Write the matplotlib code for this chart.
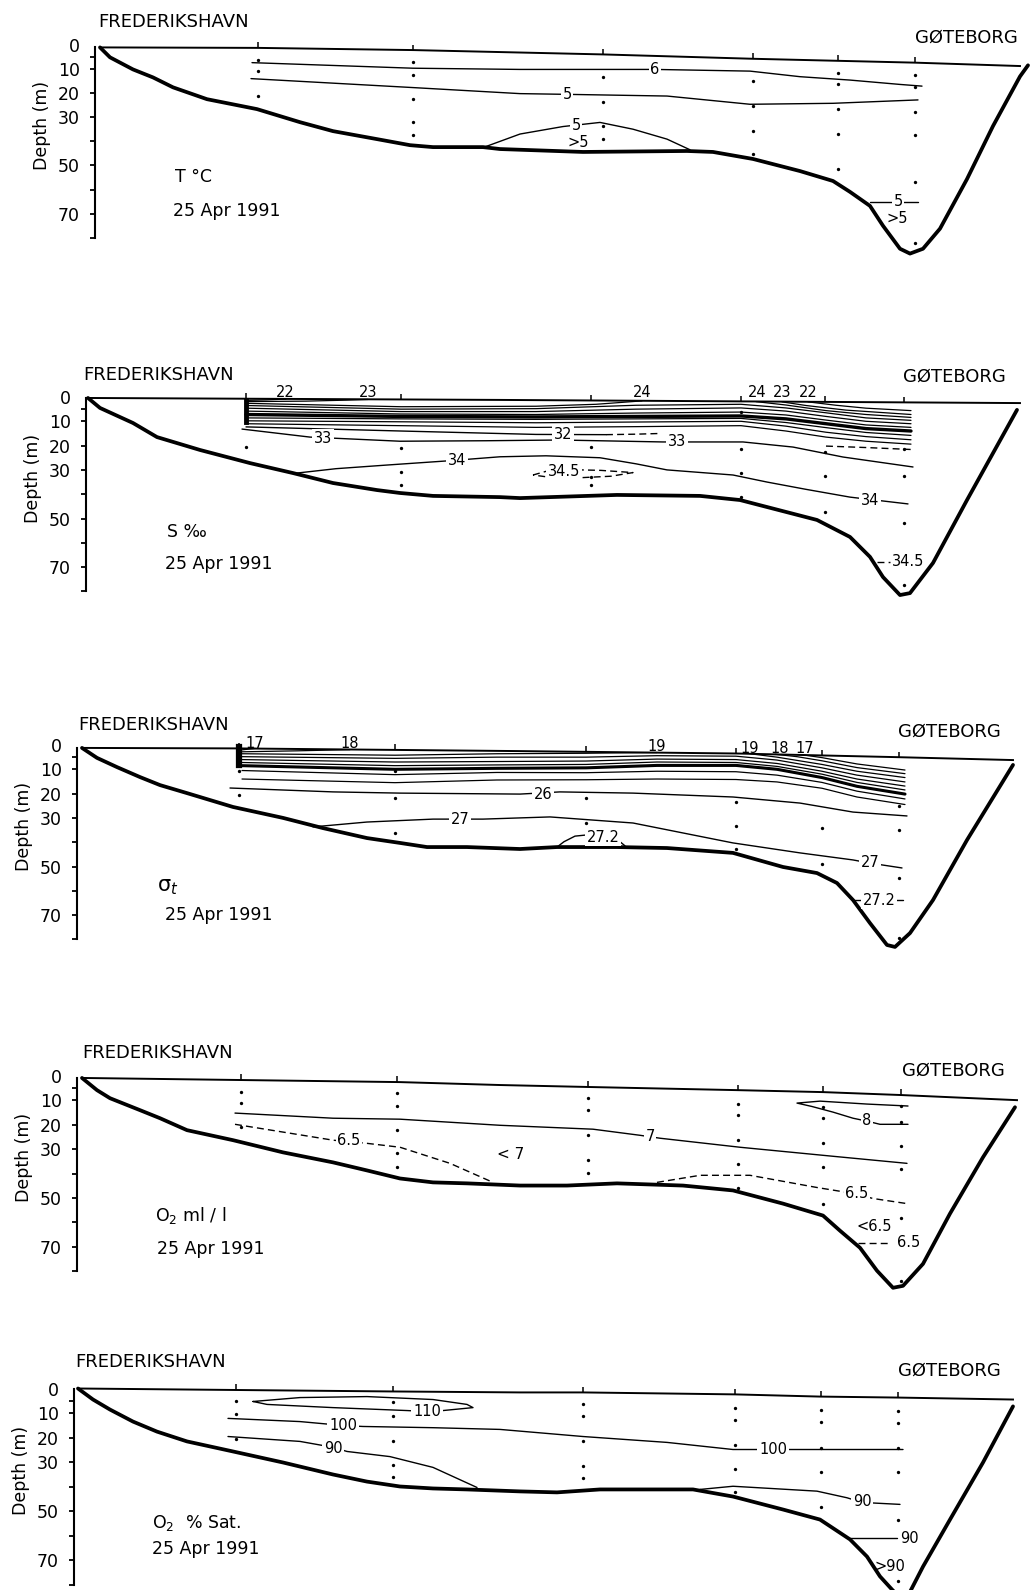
import numpy as np
import matplotlib
matplotlib.use("Agg")
import matplotlib.pyplot as plt

plt.rcParams["font.family"] = "DejaVu Sans"

FIG_W, FIG_H = 1032, 1590          # pixels at dpi 100
PX_PER_KM = 10.0
D_TOP, D_BOT = -14.0, 90.0         # depth range shown in every panel (m)

TICKS = [0, 5, 10, 20, 30, 40, 50, 60, 70, 80]
TICK_LABELS = ["0", "", "10", "20", "30", "", "50", "", "70", ""]

# ─────────────────────────────────────────────────────────────────────────────
# Panel 1 : temperature
# ─────────────────────────────────────────────────────────────────────────────
t_st = [16.3, 31.8, 50.8, 65.8, 74.3, 82.0]
t_dots = [[6.2, 11.1, 21.4], [7.1, 12.6, 22.6, 32.2, 37.4], [13.3, 23.7, 33.6, 39.1],
          [15.1, 25.4, 35.7, 45.3], [11.9, 16.5, 26.7, 37.0, 51.4],
          [12.8, 17.4, 27.9, 37.4, 56.7, 82.0]]
t_surf_km = [0.5, 16.3, 31.8, 50.8, 65.8, 82.0, 92.5]
t_surf_d = [1.2, 1.4, 2.3, 4.1, 5.9, 7.5, 8.9]
t_bot_km = [0.5, 1.5, 3.8, 5.8, 7.8, 11.2, 16.2, 20.5, 23.8, 28.2, 31.5, 33.8, 38.8, 40.5,
            48.8, 59.2, 61.8, 65.8, 70.5, 73.8, 75.5, 77.5, 78.8, 80.5, 81.5, 82.8, 84.5,
            87.2, 89.8, 92.5, 93.3]
t_bot_d = [1.2, 5.3, 10.3, 13.6, 17.7, 22.6, 26.7, 32.1, 35.8, 39.1, 41.6, 42.4, 42.4, 43.2,
           44.4, 44.0, 44.4, 47.3, 52.3, 56.4, 60.9, 66.7, 74.9, 84.4, 86.4, 84.4, 76.1,
           55.6, 33.7, 13.2, 8.6]
t6_km = [15.7, 31.8, 42.5, 56.0, 65.5, 70.5, 75.5, 80.5, 82.7]
t6_d = [7.5, 9.8, 10.3, 10.3, 11.0, 13.3, 14.7, 16.5, 17.2]
t5_km = [15.6, 31.8, 42.5, 47.2, 57.2, 65.5, 73.8, 82.3]
t5_d = [14.1, 17.8, 20.3, 20.6, 21.3, 24.7, 24.3, 22.9]
t5_dome_km = [39.0, 42.5, 46.8, 50.5, 53.8, 57.2, 59.5]
t5_dome_d = [42.3, 37.0, 33.9, 32.2, 35.0, 39.1, 43.5]
t5_deep_km = [77.5, 82.3]
t5_deep_d = [64.9, 64.9]

# ─────────────────────────────────────────────────────────────────────────────
# Panel 2 : salinity
# ─────────────────────────────────────────────────────────────────────────────
s_st = [16.0, 31.5, 50.5, 65.5, 73.9, 81.8]
s_dots = [[20.6], [21.0, 30.9, 36.2], [20.6, 33.0, 36.2], [6.2, 21.4, 31.3, 41.2],
          [22.6, 32.5, 47.3], [21.4, 32.5, 51.9, 77.4]]
s_surf_km = [0.2, 41.4, 93.4]
s_surf_d = [0.4, 1.2, 2.5]
s_bot_km = [0.2, 1.4, 4.7, 7.1, 11.4, 16.4, 20.7, 24.7, 29.1, 31.4, 34.7, 41.4, 43.4, 53.1,
            61.4, 65.4, 73.1, 76.4, 78.4, 79.7, 81.4, 82.4, 84.7, 88.1, 93.1]
s_bot_d = [0.4, 4.5, 10.7, 16.5, 21.8, 27.2, 31.3, 35.4, 38.3, 39.5, 40.7, 41.2, 41.6, 40.3,
           40.7, 42.4, 50.6, 57.6, 65.8, 74.1, 81.5, 80.7, 68.3, 42.4, 5.3]
s_K = [16.0, 31.5, 45.0, 55.0, 65.5, 70.0, 74.0, 78.0, 82.5]
s25 = [3.5, 5.0, 4.8, 3.4, 3.0, 4.5, 6.5, 8.6, 9.6]
s26 = [4.6, 6.0, 6.0, 5.0, 4.5, 5.8, 8.0, 10.0, 11.0]
s27 = [5.8, 7.0, 7.2, 6.6, 6.2, 7.4, 9.5, 11.5, 12.5]
s28 = [7.2, 8.0, 8.2, 8.0, 7.8, 9.0, 11.0, 13.0, 14.0]
s29 = [8.6, 9.0, 9.2, 9.0, 8.8, 10.5, 12.6, 14.6, 15.8]
s30 = [9.8, 10.2, 10.6, 10.3, 10.0, 12.0, 14.5, 16.3, 17.6]
s31 = [11.0, 11.8, 12.5, 12.2, 11.8, 14.0, 16.5, 18.2, 19.4]
s22_l_km, s22_l_d = [16.0, 18.0, 20.0], [1.4, 1.2, 0.85]
s23_l_km, s23_l_d = [16.0, 22.0, 26.0, 28.2], [1.9, 1.7, 1.3, 1.0]
s24_l_km, s24_l_d = [16.0, 31.5, 45.0, 51.0, 55.6], [2.6, 4.0, 3.8, 3.0, 1.6]
s24_r_km, s24_r_d = [67.0, 70.0, 74.0, 78.0, 82.5], [1.9, 3.3, 5.6, 7.2, 8.4]
s23_r_km, s23_r_d = [69.6, 72.0, 76.0, 82.5], [2.0, 3.5, 5.4, 7.2]
s22_r_km, s22_r_d = [72.2, 75.0, 78.0, 82.5], [2.0, 3.4, 4.6, 5.6]
s32_km, s32_d = [16.0, 31.5, 45.0, 52.0], [12.3, 14.0, 15.4, 15.5]
s32_end_km, s32_end_d = [52.0, 55.0, 57.5], [15.5, 15.3, 15.0]
s32_r_km, s32_r_d = [74.0, 78.0, 82.5], [20.2, 20.8, 21.6]
s33_km = [15.6, 22.4, 31.4, 40.0, 47.4, 57.7, 65.7, 70.7, 75.7, 82.7]
s33_d = [13.2, 16.5, 18.2, 18.0, 17.7, 18.5, 18.5, 20.6, 24.7, 28.8]
s34_km = [21.1, 25.0, 30.1, 36.1, 41.4, 46.0, 51.4, 55.0, 58.1, 64.7, 68.1, 72.0, 76.4, 82.2]
s34_d = [31.3, 29.5, 28.0, 26.3, 24.6, 24.2, 25.0, 27.5, 30.0, 32.1, 35.0, 38.0, 41.2, 44.0]
s345_km = [44.7, 46.0, 48.5, 51.5, 54.7, 52.5, 49.5, 46.5, 44.7]
s345_d = [32.1, 30.6, 29.9, 30.2, 31.1, 32.6, 33.2, 33.1, 32.1]
s345_deep_km, s345_deep_d = [79.1, 80.4], [67.8, 67.8]

# ─────────────────────────────────────────────────────────────────────────────
# Panel 3 : sigma-t
# ─────────────────────────────────────────────────────────────────────────────
g_st = [16.2, 31.8, 50.9, 65.9, 74.5, 82.2]
g_dots = [[10.7, 20.6], [10.7, 21.8, 36.2], [21.8, 32.1], [23.4, 33.3, 42.8], [34.2, 49.0],
          [25.1, 35.0, 54.7, 79.4]]
g_surf_km = [0.5, 16.0, 44.0, 66.0, 82.0, 93.6]
g_surf_d = [1.2, 1.4, 2.5, 3.5, 5.0, 6.2]
g_bot_km = [0.5, 2.0, 4.0, 6.3, 8.3, 11.0, 15.6, 20.6, 24.6, 29.0, 32.3, 35.0, 39.0, 44.3,
            48.0, 54.0, 59.0, 65.6, 70.6, 74.0, 76.0, 77.6, 79.3, 81.0, 81.8, 83.3, 85.6,
            89.0, 93.6]
g_bot_d = [1.2, 5.3, 9.1, 13.2, 16.5, 19.8, 25.5, 30.0, 34.2, 38.3, 40.3, 42.0, 42.0, 42.8,
           42.0, 42.0, 42.4, 44.4, 50.2, 52.7, 56.8, 63.8, 73.3, 82.3, 83.1, 77.4, 63.8,
           39.1, 8.2]
g_K = [16.5, 31.8, 42.0, 50.9, 58.0, 65.9, 70.0, 74.5, 78.0, 82.8]
g20 = [4.8, 5.5, 5.0, 5.0, 4.4, 4.6, 6.2, 9.4, 12.4, 15.2]
g21 = [6.0, 7.0, 6.8, 6.6, 5.8, 6.0, 7.6, 10.8, 14.0, 16.9]
g22 = [7.2, 8.5, 8.2, 8.0, 7.0, 7.2, 8.8, 12.0, 15.4, 18.5]
g23 = [8.5, 10.0, 9.6, 9.4, 8.4, 8.4, 10.0, 13.4, 17.0, 20.2]
g24 = [10.5, 12.2, 11.3, 11.4, 10.8, 11.0, 12.4, 15.4, 19.0, 22.2]
g25 = [14.0, 15.5, 14.4, 14.3, 14.0, 14.2, 15.2, 17.8, 21.4, 24.5]
g17_l_km, g17_l_d = [16.5, 17.8], [2.0, 1.4]
g18_l_km, g18_l_d = [16.5, 22.0, 27.3], [2.8, 2.4, 1.9]
g19_l_km, g19_l_d = [16.5, 31.8, 42.0, 50.9, 55.0, 58.0], [3.6, 4.2, 3.6, 3.4, 3.2, 3.1]
g19_r_km, g19_r_d = [67.3, 70.0, 74.5, 78.0, 82.8], [3.6, 5.0, 8.0, 10.8, 13.4]
g18_r_km, g18_r_d = [69.8, 72.0, 74.5, 78.0, 82.8], [3.8, 4.8, 6.5, 9.3, 11.8]
g17_r_km, g17_r_d = [72.5, 74.5, 78.0, 82.8], [4.0, 5.2, 7.8, 10.3]
g26_km = [15.3, 25.6, 32.3, 44.3, 48.3, 55.6, 65.6, 72.3, 77.6, 83.0]
g26_d = [17.7, 19.3, 19.8, 20.2, 19.3, 19.8, 21.4, 23.9, 27.6, 29.2]
g27_km = [23.6, 29.0, 35.6, 40.6, 44.3, 47.3, 55.6, 60.6, 65.6, 72.3, 77.6, 79.3, 82.5]
g27_d = [33.7, 31.7, 30.5, 30.5, 30.0, 29.6, 32.1, 36.2, 40.3, 44.4, 47.3, 48.6, 50.6]
g272_km = [48.0, 48.7, 49.8, 51.0, 52.6, 54.3, 54.8]
g272_d = [42.0, 39.8, 37.5, 37.0, 37.5, 39.8, 41.5]
g272_deep_km, g272_deep_d = [77.6, 82.6], [63.8, 63.8]

# ─────────────────────────────────────────────────────────────────────────────
# Panel 4 : oxygen ml/l
# ─────────────────────────────────────────────────────────────────────────────
o_st = [16.4, 32.0, 51.1, 66.1, 74.6, 82.4]
o_dots = [[6.6, 11.1, 21.0], [7.0, 12.3, 22.2, 31.7, 37.4], [9.1, 14.0, 24.3, 34.6, 39.9],
          [11.5, 16.0, 26.3, 36.2, 45.7], [12.8, 17.3, 27.6, 37.4, 52.3],
          [12.3, 18.9, 28.8, 38.3, 58.4, 84.0]]
o_surf_km = [0.5, 32.3, 42.3, 51.1, 66.1, 74.6, 82.4, 94.0]
o_surf_d = [0.8, 2.5, 3.7, 4.5, 5.8, 6.6, 7.8, 9.9]
o_bot_km = [0.5, 2.0, 3.3, 6.3, 8.3, 11.0, 15.6, 20.6, 25.6, 29.0, 32.3, 35.6, 39.0, 44.3,
            49.0, 54.0, 60.6, 65.6, 70.6, 74.6, 76.3, 78.3, 80.0, 81.6, 82.6, 84.6, 87.3,
            90.6, 93.8]
o_bot_d = [0.8, 5.8, 9.1, 14.0, 17.3, 22.2, 26.3, 31.3, 35.4, 38.7, 42.0, 43.6, 44.0, 44.9,
           44.9, 44.0, 44.9, 46.9, 52.3, 57.2, 63.4, 70.4, 79.8, 86.8, 86.0, 77.0, 56.4,
           33.3, 12.8]
o7_km = [15.8, 25.6, 32.3, 42.3, 51.6, 56.3, 58.3, 66.3, 75.6, 83.0]
o7_d = [15.2, 17.3, 17.7, 20.2, 21.8, 24.3, 25.5, 29.2, 32.9, 35.8]
o65_l_km = [15.8, 25.6, 29.0, 32.3, 37.3, 41.6]
o65_l_d = [19.8, 26.3, 27.6, 29.2, 35.8, 43.6]
o65_r_km = [58.0, 62.3, 67.3, 74.0, 77.6, 79.6, 83.0]
o65_r_d = [43.6, 40.7, 40.7, 45.7, 48.1, 50.2, 52.3]
o65_deep_km, o65_deep_d = [78.1, 81.2], [68.3, 68.3]
o8_km = [83.1, 79.0, 74.3, 72.0, 73.5, 75.6, 77.6, 79.0, 80.3, 83.1]
o8_d = [12.3, 11.5, 10.3, 11.1, 12.5, 14.8, 17.3, 18.5, 19.8, 19.8]

# ─────────────────────────────────────────────────────────────────────────────
# Panel 5 : oxygen % saturation
# ─────────────────────────────────────────────────────────────────────────────
p_st = [16.2, 31.9, 50.9, 66.1, 74.7, 82.4]
p_dots = [[5.3, 10.6, 20.8], [5.7, 11.4, 21.6, 31.4, 36.3], [6.5, 11.4, 21.6, 31.8, 36.7],
          [7.8, 12.7, 22.9, 32.7, 42.4], [8.6, 13.5, 24.1, 33.9, 48.2],
          [9.0, 13.9, 24.1, 33.9, 53.5, 78.4]]
p_surf_km = [0.4, 31.6, 44.6, 50.9, 66.1, 74.6, 82.4, 93.9]
p_surf_d = [0.0, 1.2, 1.6, 1.6, 2.4, 3.3, 3.7, 4.5]
p_bot_km = [0.4, 1.9, 3.6, 5.9, 8.3, 11.3, 15.9, 20.9, 25.9, 29.3, 32.6, 35.9, 39.3, 44.6,
            48.3, 52.6, 61.9, 65.9, 70.9, 74.6, 77.6, 79.3, 80.6, 81.9, 82.6, 83.6, 84.9,
            87.6, 90.9, 93.9]
p_bot_d = [0.0, 4.5, 8.6, 13.5, 17.6, 21.6, 25.7, 30.2, 35.1, 38.0, 40.0, 40.8, 41.2, 42.0,
           42.4, 41.2, 41.2, 44.1, 49.4, 53.5, 61.6, 68.6, 76.7, 82.5, 84.5, 83.0, 72.7,
           53.5, 30.2, 7.3]
p110_km = [17.9, 22.6, 29.3, 35.9, 39.3, 39.9, 36.9, 35.3, 33.3, 25.9, 19.3, 17.9]
p110_d = [5.3, 3.7, 3.3, 4.5, 6.5, 7.8, 9.0, 9.4, 9.0, 7.8, 6.5, 5.3]
p100_km = [15.4, 22.6, 26.9, 28.9, 35.9, 42.6, 50.9, 59.3, 65.9, 69.9, 82.9]
p100_d = [12.2, 13.5, 15.1, 15.5, 16.0, 16.7, 19.6, 22.0, 24.9, 24.9, 24.9]
p90_l_km = [15.4, 22.6, 25.9, 27.3, 31.6, 35.9, 40.3]
p90_l_d = [19.6, 21.6, 24.0, 25.7, 27.8, 32.2, 40.4]
p90_r_km = [62.6, 65.9, 74.3, 77.3, 78.8, 82.6]
p90_r_d = [41.2, 39.9, 41.9, 44.6, 46.5, 47.3]
p90_deep_km, p90_deep_d = [77.6, 82.3], [61.2, 61.2]


# ─────────────────────────────────────────────────────────────────────────────
# helpers
# ─────────────────────────────────────────────────────────────────────────────

def make_axes(fig, spine_px, y0_px, px_m):
    """Axes whose left edge is the depth axis; 10 px per km, px_m px per metre."""
    top_px = y0_px + D_TOP * px_m
    h_px = (D_BOT - D_TOP) * px_m
    ax = fig.add_axes([spine_px / FIG_W, 1 - (top_px + h_px) / FIG_H,
                       (FIG_W - spine_px) / FIG_W, h_px / FIG_H])
    ax.set_xlim(0, (FIG_W - spine_px) / PX_PER_KM)
    ax.set_ylim(D_BOT, D_TOP)
    ax.patch.set_alpha(0)
    for s in ("top", "right", "bottom"):
        ax.spines[s].set_visible(False)
    ax.set_xticks([])
    return ax


def draw_frame(ax, surf_km, surf_d, bot_km, bot_d, stations, dots):
    ax.spines["left"].set_bounds(surf_d[0], 80)
    ax.spines["left"].set_linewidth(1.5)
    ax.set_yticks(TICKS, labels=TICK_LABELS)
    ax.yaxis.get_major_ticks()[0].tick1line.set_visible(False)
    ax.tick_params(axis="y", length=3.8, width=1.3, pad=7, labelsize=12.5)
    ax.plot(surf_km, surf_d, color="k", lw=1.4, zorder=3)
    ax.plot(bot_km, bot_d, color="k", lw=2.7, zorder=3,
            solid_capstyle="round", solid_joinstyle="round")
    s_at = np.interp(stations, surf_km, surf_d)
    ax.vlines(stations, s_at - 2.3, s_at, color="k", lw=1.1)
    for km, ds in zip(stations, dots):
        ax.plot([km] * len(ds), ds, "o", color="k", ms=2.4, mec="none", zorder=4)
    ax.text(-5.3, 33.5, "Depth (m)", rotation=90, ha="center", va="center",
            fontsize=12.5, clip_on=False)


def iso(ax, km, d, dashed=False, lw=1.0):
    ls = (0, (5, 3)) if dashed else "-"
    ax.plot(km, d, color="k", lw=lw, ls=ls, zorder=2,
            solid_joinstyle="round", solid_capstyle="round")


def tag(ax, km, d, s, fs=10.5, ha="center"):
    ax.text(km, d, s, ha=ha, va="center", fontsize=fs, zorder=5,
            bbox=dict(boxstyle="square,pad=0.12", fc="white", ec="none"))


def note(ax, km, d, s, fs=12.5, ha="left", **kw):
    ax.text(km, d, s, ha=ha, va="center", fontsize=fs, clip_on=False, **kw)


def place_names(ax, fred, gote):
    note(ax, fred[0], fred[1], "FREDERIKSHAVN", fs=13)
    note(ax, gote[0], gote[1], "GØTEBORG", fs=13)


fig = plt.figure(figsize=(FIG_W / 100, FIG_H / 100), dpi=100)

# ── panel 1 ─────────────────────────────────────────────────────────────────
ax = make_axes(fig, 95, 44.5, 2.42)
draw_frame(ax, t_surf_km, t_surf_d, t_bot_km, t_bot_d, t_st, t_dots)
place_names(ax, (0.3, -9.5), (82.0, -2.7))
iso(ax, t6_km, t6_d)
iso(ax, t5_km, t5_d)
iso(ax, t5_dome_km, t5_dome_d)
iso(ax, t5_deep_km, t5_deep_d)
tag(ax, 56.0, 10.3, "6")
tag(ax, 47.2, 20.6, "5")
tag(ax, 48.1, 33.4, "5")
tag(ax, 80.3, 64.7, "5")
note(ax, 48.3, 40.5, ">5", fs=10.5, ha="center")
note(ax, 80.2, 72.0, ">5", fs=10.5, ha="center")
note(ax, 8.0, 54.7, "T °C")
note(ax, 7.8, 68.6, "25 Apr 1991")

# ── panel 2 ─────────────────────────────────────────────────────────────────
ax = make_axes(fig, 86, 397, 2.43)
draw_frame(ax, s_surf_km, s_surf_d, s_bot_km, s_bot_d, s_st, s_dots)
place_names(ax, (-0.3, -9.0), (81.7, -8.2))
for line in (s25, s26, s27, s29, s30, s31):
    iso(ax, s_K, line, lw=0.9)
iso(ax, s_K, s28, lw=2.4)
for km, d in ((s22_l_km, s22_l_d), (s23_l_km, s23_l_d), (s24_l_km, s24_l_d),
              (s24_r_km, s24_r_d), (s23_r_km, s23_r_d), (s22_r_km, s22_r_d)):
    iso(ax, km, d, lw=0.9)
ax.plot([s_st[0], s_st[0]], [1.2, 10.3], color="k", lw=3.5)
iso(ax, s32_km, s32_d)
iso(ax, s32_end_km, s32_end_d, dashed=True)
iso(ax, s32_r_km, s32_r_d, dashed=True)
iso(ax, s33_km, s33_d)
iso(ax, s34_km, s34_d)
iso(ax, s345_km, s345_d, dashed=True)
iso(ax, s345_deep_km, s345_deep_d, dashed=True)
tag(ax, 47.7, 15.6, "32")
tag(ax, 23.7, 17.0, "33")
tag(ax, 59.1, 18.5, "33")
tag(ax, 37.1, 26.2, "34")
tag(ax, 78.4, 42.4, "34")
tag(ax, 47.8, 30.5, "34.5")
note(ax, 80.6, 67.8, "34.5", fs=10.5)
for km, s in ((19.9, "22"), (28.2, "23"), (55.6, "24"), (67.1, "24"), (69.6, "23"),
              (72.2, "22")):
    note(ax, km, -2.0, s, fs=10.5, ha="center")
note(ax, 8.1, 55.4, "S ‰")
note(ax, 7.9, 68.7, "25 Apr 1991")

# ── panel 3 ─────────────────────────────────────────────────────────────────
ax = make_axes(fig, 77, 745, 2.43)
draw_frame(ax, g_surf_km, g_surf_d, g_bot_km, g_bot_d, g_st, g_dots)
place_names(ax, (0.1, -8.2), (82.1, -5.3))
for line in (g20, g21, g22, g24, g25):
    iso(ax, g_K, line, lw=0.9)
iso(ax, g_K, g23, lw=2.2)
for km, d in ((g17_l_km, g17_l_d), (g18_l_km, g18_l_d), (g19_l_km, g19_l_d),
              (g19_r_km, g19_r_d), (g18_r_km, g18_r_d), (g17_r_km, g17_r_d)):
    iso(ax, km, d, lw=0.9)
ax.plot([g_st[0], g_st[0]], [0.8, 8.2], color="k", lw=4.5)
iso(ax, g26_km, g26_d)
iso(ax, g27_km, g27_d)
iso(ax, g272_km, g272_d)
iso(ax, g272_deep_km, g272_deep_d)
tag(ax, 46.6, 20.2, "26")
tag(ax, 38.3, 30.6, "27")
tag(ax, 79.3, 48.4, "27")
tag(ax, 52.6, 37.9, "27.2")
tag(ax, 80.2, 63.8, "27.2")
for km, d, s in ((17.8, -0.8, "17"), (27.3, -0.8, "18"), (58.0, 0.6, "19"),
                 (67.3, 1.4, "19"), (70.3, 1.6, "18"), (72.8, 1.6, "17")):
    note(ax, km, d, s, fs=10.5, ha="center")
note(ax, 8.0, 58.4, r"σ$_t$", fs=15)
note(ax, 8.8, 70.0, "25 Apr 1991")

# ── panel 4 ─────────────────────────────────────────────────────────────────
ax = make_axes(fig, 77, 1076, 2.44)
draw_frame(ax, o_surf_km, o_surf_d, o_bot_km, o_bot_d, o_st, o_dots)
place_names(ax, (0.5, -9.5), (82.5, -2.0))
iso(ax, o7_km, o7_d)
iso(ax, o8_km, o8_d)
iso(ax, o65_l_km, o65_l_d, dashed=True)
iso(ax, o65_r_km, o65_r_d, dashed=True)
iso(ax, o65_deep_km, o65_deep_d, dashed=True)
tag(ax, 57.3, 24.9, "7")
tag(ax, 79.0, 18.4, "8")
tag(ax, 27.2, 26.5, "6.5")
tag(ax, 78.0, 48.1, "6.5")
note(ax, 82.0, 68.3, "6.5", fs=10.5)
note(ax, 78.0, 61.7, "<6.5", fs=10.5)
note(ax, 42.0, 32.1, "< 7", fs=11)
note(ax, 7.8, 57.2, r"O$_2$ ml / l")
note(ax, 8.0, 70.8, "25 Apr 1991")

# ── panel 5 ─────────────────────────────────────────────────────────────────
ax = make_axes(fig, 74, 1388.5, 2.45)
draw_frame(ax, p_surf_km, p_surf_d, p_bot_km, p_bot_d, p_st, p_dots)
place_names(ax, (0.1, -10.7), (82.4, -7.4))
iso(ax, p110_km, p110_d)
iso(ax, p100_km, p100_d)
iso(ax, p90_l_km, p90_l_d)
iso(ax, p90_r_km, p90_r_d)
iso(ax, p90_deep_km, p90_deep_d)
tag(ax, 35.3, 9.3, "110")
tag(ax, 26.9, 15.1, "100")
tag(ax, 69.9, 24.9, "100")
tag(ax, 25.9, 24.3, "90")
tag(ax, 78.8, 46.3, "90")
note(ax, 82.6, 61.2, "90", fs=10.5)
note(ax, 81.6, 72.7, ">90", fs=10.5, ha="center")
note(ax, 7.8, 54.7, r"O$_2$  % Sat.")
note(ax, 7.8, 65.7, "25 Apr 1991")

fig.savefig("out.png", dpi=100)
